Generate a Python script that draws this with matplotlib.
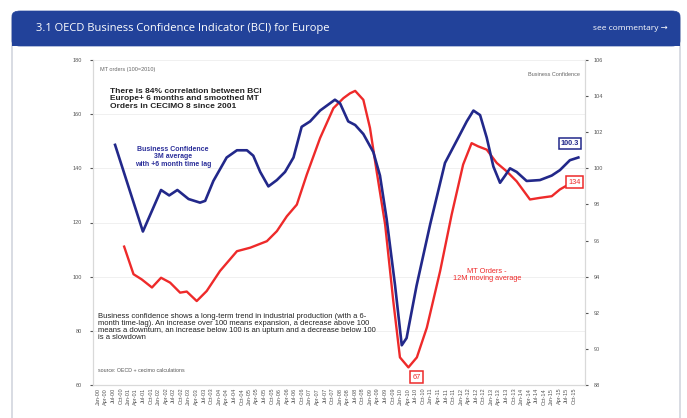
import matplotlib
matplotlib.use("Agg")
import matplotlib.pyplot as plt
from matplotlib.patches import FancyBboxPatch, Rectangle

# ---------------- data ----------------
# MT orders, 12M moving average (left axis, 100 = 2010)
red_t = [2000.86, 2001.17, 2001.44, 2001.78, 2002.08, 2002.38, 2002.71, 2002.93,
         2003.26, 2003.59, 2004.03, 2004.59, 2005.03, 2005.58, 2005.91, 2006.24,
         2006.57, 2006.90, 2007.34, 2007.78, 2008.11, 2008.33, 2008.50, 2008.77,
         2008.99, 2009.21, 2009.49, 2009.76, 2009.98, 2010.26, 2010.54, 2010.87,
         2011.31, 2011.69, 2012.07, 2012.35, 2012.57, 2012.85, 2013.18, 2013.51,
         2013.84, 2014.28, 2014.61, 2015.00, 2015.27, 2015.55, 2015.88]
red_v = [111.1, 100.9, 99.0, 96.0, 99.6, 97.8, 94.1, 94.5,
         91.0, 94.7, 102.1, 109.4, 110.7, 113.1, 116.8, 122.3,
         126.6, 137.7, 151.2, 162.2, 165.9, 167.7, 168.6, 165.3,
         154.9, 138.9, 119.3, 91.0, 70.2, 66.5, 70.2, 81.2,
         102.1, 122.9, 141.4, 149.3, 148.1, 146.9, 142.0, 138.9,
         135.2, 128.5, 129.1, 129.7, 132.2, 134.0, 135.2]

# Business confidence, 3M average with +6 month lag (right axis)
blue_t = [2000.56, 2001.48, 2002.08, 2002.35, 2002.62, 2002.99, 2003.37, 2003.54,
          2003.81, 2004.25, 2004.59, 2004.92, 2005.13, 2005.36, 2005.63, 2005.91,
          2006.18, 2006.46, 2006.73, 2007.01, 2007.34, 2007.83, 2008.00, 2008.27,
          2008.50, 2008.77, 2009.10, 2009.32, 2009.54, 2009.82, 2010.04, 2010.20,
          2010.53, 2010.98, 2011.47, 2011.91, 2012.19, 2012.41, 2012.63, 2012.85,
          2013.07, 2013.29, 2013.46, 2013.62, 2013.84, 2014.17, 2014.61, 2015.00,
          2015.27, 2015.60, 2015.88]
blue_v = [101.3, 96.5, 98.8, 98.5, 98.8, 98.3, 98.1, 98.2,
          99.3, 100.6, 101.0, 101.0, 100.7, 99.8, 99.0, 99.35,
          99.8, 100.6, 102.3, 102.6, 103.2, 103.8, 103.6, 102.6,
          102.4, 101.9, 100.9, 99.6, 97.2, 93.5, 90.2, 90.6,
          93.5, 96.9, 100.3, 101.7, 102.6, 103.2, 102.95, 101.7,
          100.1, 99.2, 99.6, 100.0, 99.8, 99.3, 99.35, 99.6,
          99.9, 100.45, 100.6]

left_ticks = [60, 80, 100, 120, 140, 160, 180]
right_ticks = [88, 90, 92, 94, 96, 98, 100, 102, 104, 106]
months = ["Jan", "Apr", "Jul", "Oct"]
x_labels = [f"{m}-{y % 100:02d}" for y in range(2000, 2016) for m in months]
x_pos = [2000 + i * 0.25 for i in range(len(x_labels))]

blue_last_label = "100.3"
red_last_label = "134"
red_min_label = "67"

# ---------------- figure ----------------
W, H = 687, 418
fig = plt.figure(figsize=(W / 100, H / 100), dpi=100)
fig.patch.set_facecolor("white")
plt.rcParams["font.family"] = ["Liberation Sans", "DejaVu Sans"]


def fx(x):
    return x / W


def fy(y):
    return 1 - y / H


# card body
body = FancyBboxPatch((fx(12), fy(430)), fx(668), fy(14) - fy(430),
                      boxstyle="round,pad=0,rounding_size=0.012",
                      transform=fig.transFigure, facecolor="white",
                      edgecolor="#c9ced8", linewidth=1.0, zorder=-3)
fig.patches.append(body)
# header
header = FancyBboxPatch((fx(12), fy(46)), fx(668), fy(11) - fy(46),
                        boxstyle="round,pad=0,rounding_size=0.012",
                        transform=fig.transFigure, facecolor="#22429a",
                        edgecolor="#22429a", linewidth=0.5, zorder=-2)
fig.patches.append(header)
fig.patches.append(Rectangle((fx(12), fy(46)), fx(668), fy(36) - fy(46),
                             transform=fig.transFigure, facecolor="#22429a",
                             edgecolor="none", zorder=-2))
fig.text(fx(36), fy(28), "3.1 OECD Business Confidence Indicator (BCI) for Europe",
         color="white", fontsize=8, va="center", ha="left",
         family=["Open Sans", "DejaVu Sans"], zorder=3)
fig.text(fx(668), fy(28), "see commentary \u2192", color="white", fontsize=6,
         va="center", ha="right", family=["Open Sans", "DejaVu Sans"], zorder=3)

# ---------------- chart ----------------
ax = fig.add_axes([fx(93), fy(385), fx(585) - fx(93), fy(60) - fy(385)])
ax.set_facecolor("none")
ax2 = ax.twinx()

ax.plot(red_t, red_v, color="#ee2a2a", lw=1.7, zorder=3, solid_joinstyle="round")
ax2.plot(blue_t, blue_v, color="#22288a", lw=1.9, zorder=4, solid_joinstyle="round")

ax.set_xlim(1999.83, 2016.1)
ax.set_ylim(60, 180)
ax2.set_ylim(88, 106)
ax.set_yticks(left_ticks)
ax2.set_yticks(right_ticks)
ax.set_xticks(x_pos)
ax.set_xticklabels(x_labels, rotation=90, fontsize=4, color="#555555")
ax.tick_params(axis="x", length=0, pad=2)
ax.tick_params(axis="y", labelsize=4, colors="#555555", length=2, pad=6)
ax2.tick_params(axis="y", labelsize=4, colors="#555555", length=2, pad=4)
for a in (ax, ax2):
    a.spines["top"].set_visible(False)
    for s in ("left", "right", "bottom"):
        a.spines[s].set_color("#d9d9d9")
        a.spines[s].set_linewidth(0.8)
ax.grid(axis="y", color="#eeeeee", lw=0.6)
ax.set_axisbelow(True)

# annotations
ax.text(0.014, 0.97, "MT orders (100=2010)", transform=ax.transAxes,
        fontsize=4, color="#666666", va="center")
ax.text(0.99, 0.955, "Business Confidence", transform=ax.transAxes,
        fontsize=4, color="#666666", va="center", ha="right")
fig.text(fx(110), fy(99), "There is 84% correlation between BCI\n"
         "Europe+ 6 months and smoothed MT\nOrders in CECIMO 8 since 2001",
         fontsize=6, fontweight="bold", color="#222222", va="center",
         ha="left", linespacing=1.15, zorder=5)
fig.text(fx(173), fy(157), "Business Confidence\n3M average\nwith +6 month time lag",
         fontsize=5, fontweight="bold", color="#2b2f9a", va="center",
         ha="center", linespacing=1.1, zorder=5)
fig.text(fx(487), fy(275), "MT Orders -\n12M moving average",
         fontsize=5.3, color="#ee2a2a", va="center", ha="center",
         linespacing=1.1, zorder=5)
fig.text(fx(98), fy(327),
         "Business confidence shows a long-term trend in industrial production (with a 6-\n"
         "month time-lag). An increase over 100 means expansion, a decrease above 100\n"
         "means a downturn, an increase below 100 is an upturn and a decrease below 100\n"
         "is a slowdown",
         fontsize=5.5, color="#222222", va="center", ha="left", linespacing=1.0,
         zorder=5)
fig.text(fx(98), fy(371), "source: OECD + cecimo calculations", fontsize=3.8,
         color="#555555", va="center", ha="left", zorder=5)

# value boxes
ax2.annotate(blue_last_label, xy=(blue_t[-1], blue_v[-1]), xytext=(-6, 10),
             textcoords="offset points", fontsize=5.3, color="#22288a",
             fontweight="bold", ha="center", va="center",
             bbox=dict(boxstyle="square,pad=0.3", fc="white", ec="#22288a", lw=1.1),
             zorder=6)
ax.annotate(red_last_label, xy=(red_t[-1], red_v[-1]), xytext=(-3, -0.5),
            textcoords="offset points", fontsize=5.3, color="#ee2a2a",
            ha="center", va="center",
            bbox=dict(boxstyle="square,pad=0.3", fc="white", ec="#ee2a2a", lw=1.1),
            zorder=6)
imin = red_v.index(min(red_v))
ax.annotate(red_min_label, xy=(red_t[imin], red_v[imin]), xytext=(6, -7),
            textcoords="offset points", fontsize=5.3, color="#ee2a2a",
            ha="center", va="center",
            bbox=dict(boxstyle="square,pad=0.3", fc="white", ec="#ee2a2a", lw=1.1),
            zorder=6)

fig.savefig("out.png", dpi=100)
